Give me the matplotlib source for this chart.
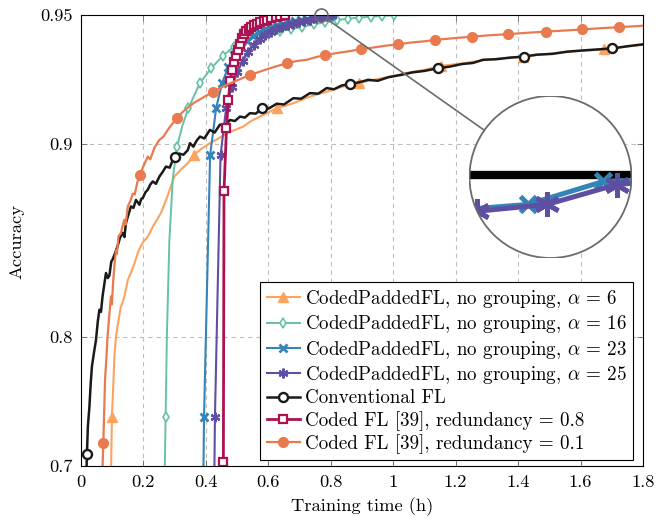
import numpy as np
import matplotlib
matplotlib.use("Agg")
import matplotlib.pyplot as plt
from matplotlib.patches import Circle
from matplotlib.lines import Line2D

# ---------------- data: training time (h) vs. accuracy ----------------
# CodedPaddedFL, no grouping, alpha = 6
time_a6 = [0.096, 0.099, 0.103, 0.107, 0.112, 0.117, 0.127, 0.139, 0.150, 0.160,
           0.171, 0.185, 0.200, 0.214, 0.230, 0.256, 0.275, 0.299, 0.320, 0.342,
           0.362, 0.385, 0.413, 0.440, 0.467, 0.495, 0.520, 0.545, 0.573, 0.600,
           0.627, 0.655, 0.680, 0.730, 0.787, 0.840, 0.890, 0.950, 1.000, 1.060,
           1.100, 1.153, 1.220, 1.280, 1.340, 1.416, 1.480, 1.550, 1.600, 1.676,
           1.740, 1.800]
acc_a6 = [0.690, 0.743, 0.765, 0.7874, 0.800, 0.8066, 0.818, 0.8246, 0.834, 0.838,
          0.843, 0.850, 0.8545, 0.857, 0.862, 0.8687, 0.876, 0.8858, 0.889, 0.8918,
          0.8955, 0.898, 0.9005, 0.9025, 0.9047, 0.9062, 0.9075, 0.9098, 0.9116, 0.9133,
          0.9150, 0.9160, 0.9170, 0.9195, 0.9216, 0.9236, 0.9250, 0.9265, 0.9277, 0.9292,
          0.9300, 0.9315, 0.9324, 0.9335, 0.9343, 0.9350, 0.9358, 0.9366, 0.9371, 0.9377,
          0.9386, 0.9394]
marks_a6 = [0.099, 0.362, 0.627, 0.890, 1.153, 1.416, 1.676]

# CodedPaddedFL, no grouping, alpha = 16
time_a16 = [0.268, 0.271, 0.275, 0.283, 0.294, 0.3075, 0.325, 0.344, 0.3805, 0.417,
            0.4535, 0.490, 0.5265, 0.563, 0.5995, 0.636, 0.6725, 0.709, 0.7455, 0.782,
            0.8185, 0.855, 0.8915, 0.928, 0.9645, 1.001, 1.100, 1.200, 1.800]
acc_a16 = [0.690, 0.743, 0.800, 0.855, 0.885, 0.899, 0.908, 0.915, 0.9249, 0.9306,
           0.9352, 0.9387, 0.9408, 0.9423, 0.9435, 0.9443, 0.9450, 0.9458, 0.9467, 0.9474,
           0.9482, 0.9487, 0.9491, 0.9494, 0.9497, 0.9499, 0.9500, 0.9504, 0.9506]
marks_a16 = [0.271, 0.3075, 0.344, 0.3805, 0.417, 0.4535, 0.490, 0.5265, 0.563, 0.5995,
             0.636, 0.6725, 0.709, 0.7455, 0.782, 0.8185, 0.855, 0.8915, 0.928, 0.9645,
             1.001]

# CodedPaddedFL, no grouping, alpha = 23
time_a23 = [0.392, 0.394, 0.4135, 0.433, 0.4524, 0.4719, 0.4914, 0.5109, 0.5304, 0.5498,
            0.5693, 0.5888, 0.6083, 0.6278, 0.6472, 0.6667, 0.6862, 0.7057, 0.7252, 0.7446,
            0.7641, 0.7836, 0.8030]
acc_a23 = [0.690, 0.7426, 0.8952, 0.9152, 0.9251, 0.9312, 0.9355, 0.9385, 0.9408, 0.9425,
           0.9438, 0.9449, 0.9457, 0.9464, 0.9470, 0.9475, 0.9479, 0.9483, 0.9487, 0.9490,
           0.94917, 0.94982, 0.9499]
marks_a23 = time_a23[1:]

# CodedPaddedFL, no grouping, alpha = 25
time_a25 = [0.427, 0.429, 0.4469, 0.4648, 0.4827, 0.5006, 0.5185, 0.5364, 0.5543, 0.5722,
            0.5901, 0.6080, 0.6259, 0.6438, 0.6617, 0.6796, 0.6975, 0.7154, 0.7333, 0.7512,
            0.7691, 0.7870, 0.8049]
acc_a25 = [0.690, 0.7426, 0.8952, 0.9150, 0.9235, 0.9290, 0.9335, 0.9368, 0.9394, 0.9414,
           0.9429, 0.9441, 0.9451, 0.9458, 0.9464, 0.9469, 0.9474, 0.9479, 0.9484, 0.94898,
           0.94917, 0.94973, 0.9499]
marks_a25 = time_a25[1:]

# Conventional FL
time_conv = [0.017, 0.019, 0.022, 0.027, 0.031, 0.035, 0.041, 0.048, 0.054, 0.059,
             0.064, 0.069, 0.075, 0.080, 0.086, 0.091, 0.097, 0.101, 0.108, 0.117,
             0.125, 0.134, 0.139, 0.144, 0.152, 0.160, 0.168, 0.176, 0.182, 0.187,
             0.193, 0.198, 0.206, 0.214, 0.222, 0.230, 0.240, 0.251, 0.262, 0.272,
             0.284, 0.292, 0.301, 0.315, 0.328, 0.342, 0.349, 0.360, 0.370, 0.381,
             0.395, 0.413, 0.428, 0.445, 0.460, 0.477, 0.493, 0.509, 0.525, 0.541,
             0.560, 0.579, 0.600, 0.627, 0.650, 0.680, 0.705, 0.733, 0.760, 0.787,
             0.810, 0.835, 0.862, 0.890, 0.920, 0.950, 0.985, 1.022, 1.060, 1.100,
             1.1425, 1.180, 1.220, 1.255, 1.288, 1.330, 1.375, 1.420, 1.460, 1.510,
             1.556, 1.600, 1.650, 1.702, 1.750, 1.800]
acc_conv = [0.690, 0.7114, 0.735, 0.751, 0.768, 0.7805, 0.789, 0.798, 0.810, 0.8168,
            0.8155, 0.8246, 0.832, 0.8378, 0.8350, 0.8365, 0.8440, 0.845, 0.8480, 0.852,
            0.8565, 0.8589, 0.8568, 0.8638, 0.8680, 0.8719, 0.8712, 0.8750, 0.8738, 0.8727,
            0.8755, 0.8759, 0.8785, 0.8798, 0.8822, 0.8836, 0.8825, 0.8858, 0.8880, 0.8903,
            0.8898, 0.8925, 0.8945, 0.8960, 0.8955, 0.8975, 0.9005, 0.8990, 0.9015, 0.9033,
            0.9025, 0.9061, 0.9050, 0.9083, 0.9078, 0.9102, 0.9098, 0.9116, 0.9112, 0.9130,
            0.9128, 0.9150, 0.9148, 0.9168, 0.9165, 0.9190, 0.9188, 0.9210, 0.9208, 0.9230,
            0.9225, 0.9240, 0.9246, 0.9252, 0.9262, 0.9258, 0.9272, 0.9280, 0.9290, 0.9296,
            0.9306, 0.9312, 0.9322, 0.9326, 0.9338, 0.9340, 0.9346, 0.9350, 0.9357, 0.9360,
            0.9368, 0.9372, 0.9376, 0.9380, 0.9388, 0.9395]
marks_conv = [0.019, 0.301, 0.579, 0.862, 1.1425, 1.420, 1.702]

# Coded FL [39], redundancy = 0.8
time_c08 = [0.456, 0.458, 0.466, 0.472, 0.478, 0.484, 0.490, 0.496, 0.502, 0.509,
            0.516, 0.523, 0.530, 0.538, 0.546, 0.555, 0.564, 0.574, 0.585, 0.597,
            0.610, 0.624, 0.638, 0.653]
acc_c08 = [0.7035, 0.879, 0.9068, 0.9183, 0.9257, 0.9300, 0.9331, 0.9352, 0.9375, 0.9398,
           0.9418, 0.9432, 0.9442, 0.9450, 0.9457, 0.9464, 0.9469, 0.9474, 0.9479, 0.9484,
           0.9489, 0.9493, 0.9497, 0.9500]
marks_c08 = time_c08

# Coded FL [39], redundancy = 0.1
time_c01 = [0.068, 0.0715, 0.074, 0.077, 0.081, 0.085, 0.090, 0.096, 0.099, 0.103,
            0.107, 0.112, 0.115, 0.120, 0.128, 0.134, 0.139, 0.143, 0.150, 0.158,
            0.166, 0.172, 0.180, 0.189, 0.200, 0.214, 0.222, 0.235, 0.251, 0.264,
            0.280, 0.3065, 0.330, 0.360, 0.390, 0.424, 0.467, 0.500, 0.541, 0.570,
            0.605, 0.630, 0.659, 0.690, 0.723, 0.750, 0.7815, 0.820, 0.860, 0.897,
            0.940, 0.975, 1.014, 1.060, 1.100, 1.134, 1.190, 1.251, 1.310, 1.369,
            1.430, 1.488, 1.550, 1.606, 1.660, 1.723, 1.800]
acc_c01 = [0.690, 0.7207, 0.745, 0.771, 0.785, 0.800, 0.812, 0.8246, 0.8200, 0.833,
           0.842, 0.850, 0.848, 0.857, 0.8589, 0.863, 0.8655, 0.8630, 0.8719, 0.8745,
           0.878, 0.8775, 0.8830, 0.8866, 0.8905, 0.8947, 0.8935, 0.8985, 0.9019, 0.9033,
           0.9065, 0.9110, 0.9140, 0.9170, 0.9192, 0.9216, 0.9243, 0.9260, 0.9280, 0.9292,
           0.9306, 0.9315, 0.9325, 0.9333, 0.9338, 0.9347, 0.9356, 0.9363, 0.9370, 0.9377,
           0.9384, 0.9390, 0.9395, 0.9402, 0.9406, 0.9411, 0.9417, 0.9423, 0.9428, 0.9432,
           0.9437, 0.9441, 0.9445, 0.9449, 0.9453, 0.9457, 0.9462]
marks_c01 = [0.0715, 0.189, 0.3065, 0.424, 0.541, 0.659, 0.7815, 0.897, 1.014, 1.134,
             1.251, 1.369, 1.488, 1.606, 1.723]

x_ticks = [0, 0.2, 0.4, 0.6, 0.8, 1.0, 1.2, 1.4, 1.6, 1.8]
x_tick_labels = ["0", "0.2", "0.4", "0.6", "0.8", "1", "1.2", "1.4", "1.6", "1.8"]
y_ticks = [0.7, 0.8, 0.9, 0.95]
y_tick_labels = ["0.7", "0.8", "0.9", "0.95"]

spy_point = (0.77, 0.95)

# ---------------- styling ----------------
plt.rcParams.update({
    "font.family": ["cmr10", "DejaVu Serif"],
    "mathtext.fontset": "cm",
    "axes.formatter.use_mathtext": True,
    "font.size": 13.3,
})

C_A6 = "#FDA35E"
C_A16 = "#66C2A5"
C_A23 = "#3484B8"
C_A25 = "#5E4FA2"
C_CONV = "#1a1a1a"
C_C08 = "#AC1250"
C_C01 = "#E97A4F"
ASTERISK = (6, 2, 0)


def fwd(y):
    return np.exp(4.0 * np.asarray(y, dtype=float))


def inv(u):
    return np.log(np.clip(np.asarray(u, dtype=float), 1e-12, None)) / 4.0


def mark_index(t, marks):
    t = np.asarray(t)
    return sorted({int(np.argmin(np.abs(t - m))) for m in marks})


series = [
    (time_a6, acc_a6, marks_a6, r"CodedPaddedFL, no grouping, $\alpha$ = 6",
     dict(color=C_A6, lw=1.5, marker="^", ms=6.5, mfc=C_A6, mec=C_A6)),
    (time_a16, acc_a16, marks_a16, r"CodedPaddedFL, no grouping, $\alpha$ = 16",
     dict(color=C_A16, lw=1.4, marker="d", ms=5, mfc="white", mec=C_A16, mew=1.2)),
    (time_a23, acc_a23, marks_a23, r"CodedPaddedFL, no grouping, $\alpha$ = 23",
     dict(color=C_A23, lw=1.5, marker="x", ms=6, mec=C_A23, mew=2.0)),
    (time_a25, acc_a25, marks_a25, r"CodedPaddedFL, no grouping, $\alpha$ = 25",
     dict(color=C_A25, lw=1.5, marker=ASTERISK, ms=7, mec=C_A25, mew=1.6)),
    (time_conv, acc_conv, marks_conv, "Conventional FL",
     dict(color=C_CONV, lw=1.8, marker="o", ms=6.5, mfc="white", mec=C_CONV, mew=1.7)),
    (time_c08, acc_c08, marks_c08, "Coded FL [39], redundancy = 0.8",
     dict(color=C_C08, lw=2.0, marker="s", ms=6, mfc="white", mec=C_C08, mew=1.6)),
    (time_c01, acc_c01, marks_c01, "Coded FL [39], redundancy = 0.1",
     dict(color=C_C01, lw=1.6, marker="o", ms=7, mfc=C_C01, mec=C_C01)),
]

W, H = 668, 518
fig = plt.figure(figsize=(W / 100, H / 100), dpi=100)
ax = fig.add_axes([81 / W, 1 - 466 / H, (643 - 81) / W, (466 - 15) / H])
ax.set_yscale("function", functions=(fwd, inv))

for t, a, marks, label, style in series:
    ax.plot(t, a, markevery=mark_index(t, marks), label=label, **style)

ax.set_xlim(0, 1.8)
ax.set_ylim(0.7, 0.95)
ax.set_xticks(x_ticks)
ax.set_xticklabels(x_tick_labels)
ax.set_yticks(y_ticks)
ax.set_yticklabels(y_tick_labels)
ax.minorticks_off()
ax.grid(True, ls=(0, (4, 3.5)), color="#bdbdbd", lw=0.8)
ax.set_axisbelow(True)
ax.tick_params(direction="in", length=4.5, width=0.6, color="#666666",
               top=True, right=True, labelsize=13.3, pad=6)
for sp in ax.spines.values():
    sp.set_linewidth(0.8)
    sp.set_color("black")

ax.set_xlabel("Training time (h)", fontsize=13.3)
ax.xaxis.set_label_coords(0.5, -0.069)
ax.set_ylabel("Accuracy", fontsize=13.3)
ax.yaxis.set_label_coords(-0.100, 0.497)

leg = ax.legend(loc="lower right", bbox_to_anchor=((633 - 81) / 562, (466 - 460) / 451),
                borderaxespad=0, numpoints=1, fontsize=13.7, frameon=True, fancybox=False,
                framealpha=1, edgecolor="black", handlelength=1.75, handletextpad=0.28,
                labelspacing=0.18, borderpad=0.32)
leg.get_frame().set_linewidth(0.8)

# ---------------- magnifying lens around the plateau ----------------
lens_r = 81.0          # radius of the lens (px)
spot_r = 6.5           # radius of the spotted region (px)
lens_c = np.array([550.5, H - 177.0])

spot_c = ax.transData.transform(spy_point) - np.array([0.0, 0.16])
ax.plot([spy_point[0]], [spy_point[1]], marker="o", ms=2 * spot_r * 0.72,
        mfc="none", mec="#6b6b6b", mew=1.2, clip_on=False, zorder=6)

d = lens_c - spot_c
u = d / np.hypot(*d)
p0 = spot_c + u * spot_r
p1 = lens_c - u * lens_r
fig.add_artist(Line2D([p0[0] / W, p1[0] / W], [p0[1] / H, p1[1] / H],
                      transform=fig.transFigure, color="#6b6b6b", lw=1.2))

ax_in = fig.add_axes([(lens_c[0] - lens_r) / W, (lens_c[1] - lens_r) / H,
                      2 * lens_r / W, 2 * lens_r / H])
ax_in.set_yscale("function", functions=(fwd, inv))
ax_in.set_axis_off()
ax_in.patch.set_visible(False)

inv_main = ax.transData.inverted()
x_lo = inv_main.transform(spot_c - [spot_r, 0])[0]
x_hi = inv_main.transform(spot_c + [spot_r, 0])[0]
y_lo = inv_main.transform(spot_c - [0, spot_r])[1]
y_hi = inv_main.transform(spot_c + [0, spot_r])[1]

bg = Circle((0.5, 0.5), 0.5, transform=ax_in.transAxes, fc="white", ec="none", zorder=0)
ax_in.add_patch(bg)
top_edge = ax_in.axhline(0.95, color="black", lw=6, zorder=1)
top_edge.set_clip_path(bg)

lens_series = [
    (time_a23, acc_a23, marks_a23, dict(color=C_A23, lw=3.6, marker="x", ms=12,
                                        mec=C_A23, mew=3.6)),
    (time_a25, acc_a25, marks_a25, dict(color=C_A25, lw=3.6, marker=ASTERISK, ms=18,
                                        mec=C_A25, mew=3.4)),
]
for t, a, marks, style in lens_series:
    ln, = ax_in.plot(t, a, markevery=mark_index(t, marks), zorder=2, **style)
    ln.set_clip_path(bg)

ax_in.add_patch(Circle((0.5, 0.5), 0.5, transform=ax_in.transAxes, fc="none",
                       ec="#6b6b6b", lw=1.3, zorder=5))
ax_in.set_xlim(x_lo, x_hi)
ax_in.set_ylim(y_lo, y_hi)

fig.savefig("out.png", dpi=100)
